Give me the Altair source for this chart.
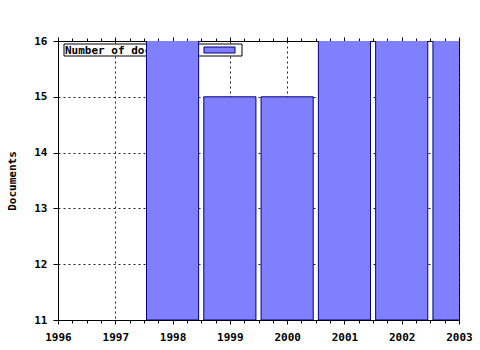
import altair as alt
import pandas as pd

FONT = "DejaVu Sans Mono"

years = [1998, 1999, 2000, 2001, 2002, 2003]
documents = [17, 15, 15, 17, 17, 17]
year_ticks = [1996, 1997, 1998, 1999, 2000, 2001, 2002, 2003]
minor_ticks = [y + q / 4 for y in year_ticks[:-1] for q in range(4)] + [year_ticks[-1]]
y_ticks = [11, 12, 13, 14, 15, 16]
legend_label = "Number of documents"

df = pd.DataFrame({"year": years, "docs": documents})

is_major = "datum.value % 1 === 0"

xscale = alt.Scale(domain=[1996, 2003], nice=False, zero=False)
yscale = alt.Scale(domain=[11, 16], nice=False, zero=False)

bottom_axis = alt.Axis(
    orient="bottom", values=minor_ticks, title=None,
    labelExpr="datum.value % 1 === 0 ? format(datum.value, 'd') : ''",
    labelOverlap=False, labelFont=FONT, labelFontWeight="bold", labelFontSize=11,
    labelColor="black", labelPadding=7, labelFlush=False,
    tickSize={"condition": {"test": is_major, "value": 4}, "value": 3},
    tickColor="black", domainColor="black",
    grid=True, gridColor="#222222", gridDash=[2, 3],
    gridOpacity={"condition": {"test": is_major, "value": 1}, "value": 0},
)

top_axis = alt.Axis(
    orient="top", values=minor_ticks, title=None, labels=False,
    tickSize={"condition": {"test": is_major, "value": 4}, "value": 3},
    tickColor="black", domainColor="black", grid=False,
)

left_axis = alt.Axis(
    orient="left", values=y_ticks, title="Documents", format="d",
    labelFont=FONT, labelFontWeight="bold", labelFontSize=11, labelColor="black",
    labelPadding=6, tickSize=5, tickColor="black", domainColor="black",
    titleFont=FONT, titleFontWeight="bold", titleFontSize=11, titleColor="black",
    titlePadding=16, grid=True, gridColor="#222222", gridDash=[2, 3],
    labelFlush=False,
)

bars = alt.Chart(df).transform_calculate(
    x0="datum.year - 0.455", x1="datum.year + 0.455"
).mark_rect(clip=True, fill="#8080FF", stroke="#000080", strokeWidth=1).encode(
    x=alt.X("x0:Q", scale=xscale, axis=bottom_axis),
    x2="x1:Q",
    y=alt.Y("docs:Q", scale=yscale, axis=left_axis),
    y2=alt.datum(11),
)

top = alt.Chart(df).mark_point(opacity=0).encode(
    x=alt.X("year:Q", scale=xscale, axis=top_axis),
    y=alt.value(0),
)

leg_df = pd.DataFrame({"label": [legend_label]})
leg_box = alt.Chart(leg_df).mark_rect(fill="white", stroke="black", strokeWidth=1).encode(
    x=alt.value(6), x2=alt.value(184), y=alt.value(3), y2=alt.value(15)
)
leg_text = alt.Chart(leg_df).mark_text(
    font=FONT, fontWeight="bold", fontSize=11, color="black", align="left", baseline="middle"
).encode(x=alt.value(7), y=alt.value(9.5), text="label:N")
leg_swatch = alt.Chart(leg_df).mark_rect(fill="#8080FF", stroke="#000080", strokeWidth=1).encode(
    x=alt.value(146), x2=alt.value(177), y=alt.value(6), y2=alt.value(12)
)

chart = alt.layer(leg_box, leg_text, leg_swatch, bars, top).resolve_axis(
    x="independent"
).properties(
    width=401, height=279,
    padding={"left": 58, "top": 41, "right": 21, "bottom": 30},
    autosize="none", background="white",
).configure_view(stroke="black", strokeWidth=1)

chart.save("out.html", embed_options={"renderer": "svg", "actions": False})
